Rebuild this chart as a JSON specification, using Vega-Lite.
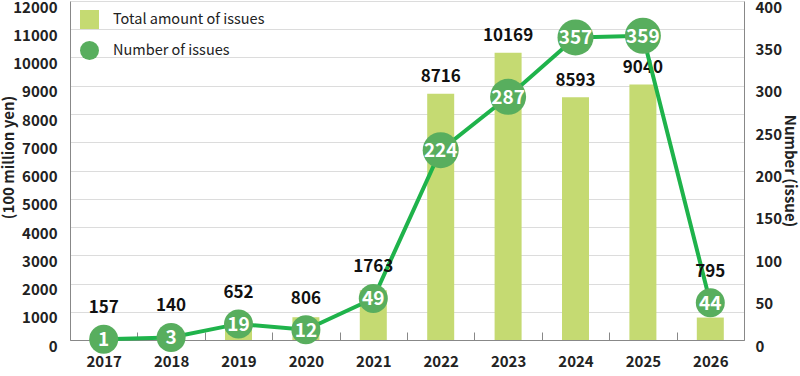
{
  "$schema": "https://vega.github.io/schema/vega-lite/v6.json",
  "width": 674,
  "height": 339,
  "autosize": {"type": "none"},
  "padding": {"left": 70, "top": 1, "right": 56, "bottom": 36},
  "config": {"view": {"stroke": null}, "font": "Noto Sans CJK JP"},
  "data": {"values": [
    {"year": "2017", "amount": 157, "count": 1},
    {"year": "2018", "amount": 140, "count": 3},
    {"year": "2019", "amount": 652, "count": 19},
    {"year": "2020", "amount": 806, "count": 12},
    {"year": "2021", "amount": 1763, "count": 49},
    {"year": "2022", "amount": 8716, "count": 224},
    {"year": "2023", "amount": 10169, "count": 287},
    {"year": "2024", "amount": 8593, "count": 357},
    {"year": "2025", "amount": 9040, "count": 359},
    {"year": "2026", "amount": 795, "count": 44}
  ]},
  "encoding": {
    "x": {
      "field": "year", "type": "ordinal",
      "scale": {"paddingInner": 0, "paddingOuter": 0},
      "axis": {"title": null, "labelAngle": 0, "domainColor": "#888888", "tickColor": "#888888", "tickSize": -8, "tickBand": "extent", "labelPadding": 22, "labelFontSize": 15, "labelColor": "#222222", "labelFontWeight": "bold"}
    }
  },
  "layer": [
    {
      "encoding": {
        "y": {
          "field": "amount", "type": "quantitative",
          "scale": {"domain": [0, 12000], "nice": false},
          "axis": {"title": "(100 million yen)", "values": [0,1000,2000,3000,4000,5000,6000,7000,8000,9000,10000,11000,12000], "format": "d", "labelOverlap": false, "grid": true, "gridColor": "#dcdcdc", "ticks": false, "domainColor": "#888888", "labelPadding": 13, "labelOffset": 6, "labelFontSize": 15, "labelColor": "#222222", "labelFontWeight": "bold", "titleFontSize": 15, "titleFontWeight": "bold", "titleColor": "#222222", "titlePadding": -4, "titleY": 156}
        }
      },
      "layer": [
        {
          "mark": {"type": "bar", "size": 27},
          "encoding": {
            "color": {
              "datum": "Total amount of issues",
              "scale": {"range": ["#c5da72"]},
              "legend": {"title": null, "orient": "none", "legendX": 9, "legendY": 8, "padding": 0, "symbolType": "square", "symbolSize": 361, "labelFontSize": 14.5, "labelColor": "#222222", "labelOffset": 13, "symbolOpacity": 1}
            }
          }
        },
        {
          "transform": [{"filter": {"field": "year", "oneOf": ["2022", "2023", "2024", "2025"]}}],
          "mark": {"type": "text", "dy": -16.5, "fontSize": 17, "fontWeight": "bold", "color": "#111111"},
          "encoding": {
            "text": {"field": "amount", "type": "quantitative", "format": "d"}
          }
        }
      ]
    },
    {
      "encoding": {
        "y": {
          "field": "count", "type": "quantitative",
          "scale": {"domain": [0, 400], "nice": false},
          "axis": {"orient": "right", "title": "Number (issue)", "values": [0,50,100,150,200,250,300,350,400], "labelOverlap": false, "grid": false, "ticks": false, "domainColor": "#888888", "labelPadding": 11, "labelOffset": 6, "labelFontSize": 15, "labelColor": "#222222", "labelFontWeight": "bold", "titleFontSize": 15, "titleFontWeight": "bold", "titleColor": "#222222", "titlePadding": 0}
        }
      },
      "layer": [
        {
          "mark": {"type": "line", "color": "#1fb34b", "strokeWidth": 4}
        },
        {
          "mark": {"type": "point", "filled": true, "opacity": 1, "strokeWidth": 0},
          "encoding": {
            "fill": {
              "datum": "Number of issues",
              "scale": {"range": ["#58ae5e"]},
              "legend": {"title": null, "orient": "none", "legendX": 9, "legendY": 39, "padding": 0, "symbolType": "circle", "symbolSize": 361, "labelFontSize": 14.5, "labelColor": "#222222", "labelOffset": 13, "symbolOpacity": 1}
            },
            "size": {"condition": {"test": "datum.count >= 100", "value": 1296}, "value": 841}
          }
        },
        {
          "mark": {"type": "text", "color": "white", "fontSize": 19, "fontWeight": "bold", "dy": 1},
          "encoding": {
            "text": {"field": "count", "type": "quantitative"}
          }
        },
        {
          "transform": [{"filter": {"not": {"field": "year", "oneOf": ["2022", "2023", "2024", "2025"]}}}],
          "mark": {"type": "text", "dy": -31, "fontSize": 17, "fontWeight": "bold", "color": "#111111"},
          "encoding": {
            "text": {"field": "amount", "type": "quantitative", "format": "d"}
          }
        }
      ]
    }
  ],
  "resolve": {"scale": {"y": "independent"}}
}
